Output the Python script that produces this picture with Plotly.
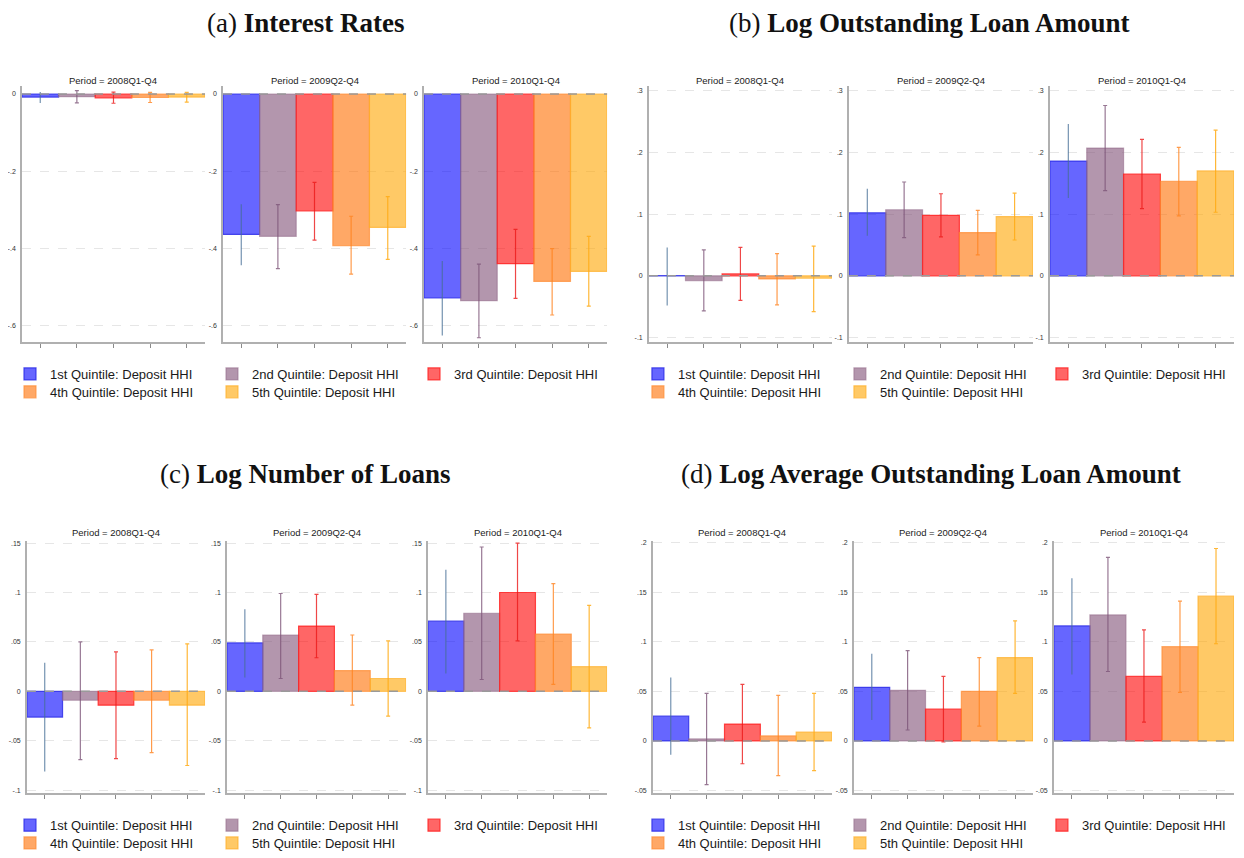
import plotly.graph_objects as go

# the page body adds an 8px margin, so the figure is drawn at (8, 8)
OFF = 8
W, H = 1244 - OFF, 858 - OFF

# ---------------- data ----------------
periods = ["2008Q1-Q4", "2009Q2-Q4", "2010Q1-Q4"]
quintiles = ["1st Quintile: Deposit HHI", "2nd Quintile: Deposit HHI",
             "3rd Quintile: Deposit HHI", "4th Quintile: Deposit HHI",
             "5th Quintile: Deposit HHI"]
x_pos = [1, 2, 3, 4, 5]

# (a) Interest Rates
rate_coef = [[-0.008, -0.007, -0.010, -0.009, -0.008],
             [-0.364, -0.369, -0.303, -0.393, -0.346],
             [-0.529, -0.536, -0.440, -0.486, -0.460]]
rate_lo = [[-0.023, -0.023, -0.024, -0.022, -0.021],
           [-0.444, -0.453, -0.379, -0.467, -0.429],
           [-0.626, -0.632, -0.530, -0.573, -0.550]]
rate_hi = [[0.005, 0.009, 0.005, 0.004, 0.004],
           [-0.286, -0.287, -0.229, -0.317, -0.266],
           [-0.433, -0.441, -0.351, -0.401, -0.369]]

# (b) Log Outstanding Loan Amount
amt_coef = [[0.0005, -0.008, 0.003, -0.005, -0.004],
            [0.102, 0.107, 0.098, 0.070, 0.096],
            [0.186, 0.207, 0.165, 0.153, 0.170]]
amt_lo = [[-0.048, -0.057, -0.040, -0.047, -0.058],
          [0.065, 0.062, 0.063, 0.034, 0.058],
          [0.126, 0.138, 0.109, 0.097, 0.103]]
amt_hi = [[0.046, 0.042, 0.046, 0.036, 0.048],
          [0.141, 0.152, 0.133, 0.106, 0.134],
          [0.246, 0.276, 0.221, 0.208, 0.236]]

# (c) Log Number of Loans
num_coef = [[-0.026, -0.009, -0.014, -0.009, -0.014],
            [0.049, 0.057, 0.066, 0.021, 0.013],
            [0.071, 0.079, 0.100, 0.058, 0.025]]
num_lo = [[-0.081, -0.069, -0.068, -0.062, -0.075],
          [0.014, 0.013, 0.034, -0.014, -0.025],
          [0.018, 0.012, 0.051, 0.007, -0.037]]
num_hi = [[0.029, 0.050, 0.040, 0.042, 0.048],
          [0.083, 0.099, 0.098, 0.057, 0.051],
          [0.123, 0.146, 0.150, 0.109, 0.087]]

# (d) Log Average Outstanding Loan Amount
avg_coef = [[0.025, 0.002, 0.017, 0.005, 0.009],
            [0.054, 0.051, 0.032, 0.050, 0.084],
            [0.116, 0.127, 0.065, 0.095, 0.146]]
avg_lo = [[-0.014, -0.044, -0.023, -0.035, -0.030],
          [0.021, 0.011, -0.001, 0.015, 0.048],
          [0.067, 0.070, 0.019, 0.049, 0.098]]
avg_hi = [[0.064, 0.048, 0.057, 0.046, 0.048],
          [0.088, 0.091, 0.065, 0.084, 0.121],
          [0.164, 0.185, 0.112, 0.141, 0.194]]

panel_titles = ["(a) <b>Interest Rates</b>",
                "(b) <b>Log Outstanding Loan Amount</b>",
                "(c) <b>Log Number of Loans</b>",
                "(d) <b>Log Average Outstanding Loan Amount</b>"]

a_ticks = [0, -0.2, -0.4, -0.6]
a_labels = ["0", "-.2", "-.4", "-.6"]
b_ticks = [-0.1, 0, 0.1, 0.2, 0.3]
b_labels = ["-.1", "0", ".1", ".2", ".3"]
c_ticks = [-0.1, -0.05, 0, 0.05, 0.1, 0.15]
c_labels = ["-.1", "-.05", "0", ".05", ".1", ".15"]
d_ticks = [-0.05, 0, 0.05, 0.1, 0.15, 0.2]
d_labels = ["-.05", "0", ".05", ".1", ".15", ".2"]

# ---------------- styles ----------------
fill_colors = ["rgba(0,0,255,0.6)", "rgba(128,80,118,0.6)", "rgba(255,0,0,0.6)",
               "rgba(255,110,0,0.6)", "rgba(255,165,0,0.6)"]
edge_colors = ["rgba(40,40,230,0.8)", "rgba(150,110,140,0.6)", "rgba(255,30,30,0.8)",
               "rgba(255,140,50,0.7)", "rgba(255,175,40,0.7)"]
err_colors = ["rgba(70,110,150,0.75)", "rgba(125,85,120,0.8)", "rgba(235,25,25,0.8)",
              "rgba(255,130,30,0.8)", "rgba(255,170,20,0.85)"]
cap_widths = [0, 2, 2, 2, 2]

def xp(px):
    return (px - OFF) / W

def yp(py):
    return 1 - (py - OFF) / H

panels = [
    dict(coef=rate_coef, lo=rate_lo, hi=rate_hi, ticks=a_ticks, labels=a_labels,
         yr=[-0.6437, 0.0198], xs=[(21, 205), (223, 407), (425, 609)],
         ys=(85, 343), title_xy=(306, 21), sub_y=79, leg_x=9, leg_y=(375, 393)),
    dict(coef=amt_coef, lo=amt_lo, hi=amt_hi, ticks=b_ticks, labels=b_labels,
         yr=[-0.1077, 0.307], xs=[(651, 835), (852, 1037), (1054, 1239)],
         ys=(85, 343), title_xy=(933, 21), sub_y=79, leg_x=640, leg_y=(375, 393)),
    dict(coef=num_coef, lo=num_lo, hi=num_hi, ticks=c_ticks, labels=c_labels,
         yr=[-0.1033, 0.1525], xs=[(26, 205), (227, 407), (429, 609)],
         ys=(543, 798), title_xy=(306, 476), sub_y=535, leg_x=9, leg_y=(830, 848)),
    dict(coef=avg_coef, lo=avg_lo, hi=avg_hi, ticks=d_ticks, labels=d_labels,
         yr=[-0.053, 0.202], xs=[(655, 835), (857, 1037), (1058, 1239)],
         ys=(543, 798), title_xy=(934, 476), sub_y=535, leg_x=640, leg_y=(830, 848)),
]

fig = go.Figure()
layout = dict(width=W, height=H, margin=dict(l=0, r=0, t=0, b=0), autosize=False,
              plot_bgcolor="white", paper_bgcolor="white", barmode="overlay",
              font=dict(family="Liberation Sans, Arial, sans-serif", color="#222"))
shapes, annotations = [], []

for p, pan in enumerate(panels):
    # legends for this panel (two rows)
    for r in range(2):
        lname = "legend" if p * 2 + r == 0 else f"legend{p * 2 + r + 1}"
        layout[lname] = dict(orientation="h", x=xp(pan["leg_x"]), xanchor="left",
                             y=yp(pan["leg_y"][r]), yanchor="middle",
                             entrywidth=157, entrywidthmode="pixels",
                             font=dict(size=13, color="#1a1a1a",
                                       family="Liberation Sans, Arial, sans-serif"),
                             bgcolor="rgba(0,0,0,0)", borderwidth=0,
                             traceorder="normal", itemclick=False, itemdoubleclick=False)
    for s in range(3):
        k = p * 3 + s + 1
        xa = "x" if k == 1 else f"x{k}"
        ya = "y" if k == 1 else f"y{k}"
        for q in range(5):
            val = pan["coef"][s][q]
            lname_idx = p * 2 + (0 if q < 3 else 1)
            lname = "legend" if lname_idx == 0 else f"legend{lname_idx + 1}"
            fig.add_trace(go.Bar(
                x=[x_pos[q]], y=[val], width=1, xaxis=xa, yaxis=ya,
                name=quintiles[q], showlegend=(s == 0), legend=lname,
                marker=dict(color=fill_colors[q], line=dict(color=edge_colors[q], width=1.2)),
                error_y=dict(type="data", symmetric=False,
                             array=[pan["hi"][s][q] - val],
                             arrayminus=[val - pan["lo"][s][q]],
                             color=err_colors[q], thickness=1.2, width=cap_widths[q]),
                hoverinfo="skip"))
        x0, x1 = pan["xs"][s]
        y0, y1 = pan["ys"]
        xkey = "xaxis" if k == 1 else f"xaxis{k}"
        ykey = "yaxis" if k == 1 else f"yaxis{k}"
        layout[xkey] = dict(domain=[xp(x0), xp(x1)], anchor=ya, range=[0.5, 5.5],
                            showgrid=False, zeroline=False, showline=True,
                            linecolor="#b0b0b0", linewidth=1.5,
                            tickmode="array", tickvals=x_pos, showticklabels=False,
                            ticks="outside", ticklen=4, tickwidth=1, tickcolor="#8a8a8a",
                            fixedrange=True)
        layout[ykey] = dict(domain=[yp(y1), yp(y0)], anchor=xa, range=pan["yr"],
                            showgrid=True, gridcolor="#e6e6e6", griddash="dash", gridwidth=1,
                            zeroline=False, showline=True, linecolor="#b0b0b0", linewidth=1.5,
                            tickmode="array", tickvals=pan["ticks"], ticktext=pan["labels"],
                            ticks="", ticklabelstandoff=3,
                            tickfont=dict(size=7, color="#333"), fixedrange=True)
        shapes.append(dict(type="line", xref=f"{xa} domain", x0=0, x1=1,
                           yref=ya, y0=0, y1=0, layer="above",
                           line=dict(color="#9a9a9a", width=1.5, dash="dash")))
        annotations.append(dict(text=f"Period = {periods[s]}", xref=f"{xa} domain", x=0.5,
                                yref="paper", y=yp(pan["sub_y"]), xanchor="center",
                                yanchor="middle", showarrow=False,
                                font=dict(size=9.5, color="#222")))
    tx, ty = pan["title_xy"]
    annotations.append(dict(text=panel_titles[p], xref="paper", yref="paper",
                            x=xp(tx), y=yp(ty), xanchor="center", yanchor="middle",
                            showarrow=False,
                            font=dict(family="Liberation Serif, Times New Roman, serif",
                                      size=27, color="#111")))

layout["shapes"] = shapes
layout["annotations"] = annotations
fig.update_layout(**layout)
fig.write_html("out.html")
